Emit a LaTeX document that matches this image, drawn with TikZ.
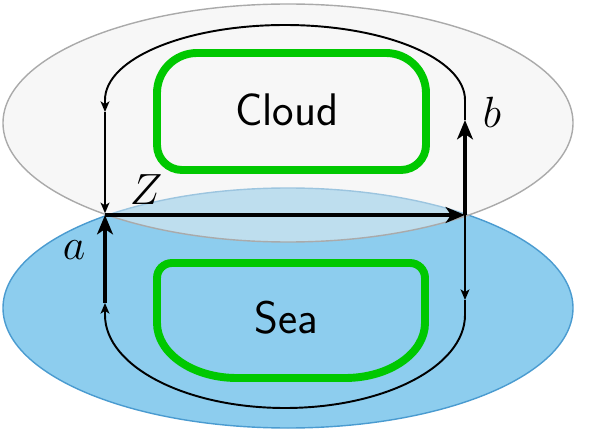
\documentclass[tikz,border=0pt]{standalone}
\usepackage{xcolor}
\usetikzlibrary{arrows.meta, positioning}

\definecolor{seablue}{HTML}{8DCDEE}
\definecolor{seaedge}{HTML}{4A9BD0}
\definecolor{cloudgray}{HTML}{EFEFEF}
\definecolor{cloudedge}{HTML}{AAAAAA}
\definecolor{boxgreen}{HTML}{00C800}

\begin{document}
\begin{tikzpicture}[
    x=0.02cm, y=-0.02cm,
    greenline/.style={draw=boxgreen, line width=4.5pt},
    word/.style={font=\fontsize{26}{30}\selectfont\sffamily, inner sep=0pt},
    lbl/.style={font=\fontsize{23}{27}\selectfont, inner sep=0pt},
    arr/.style={-{Stealth[length=11pt, width=9pt, inset=3pt]}, line width=2.3pt},
    thinarr/.style={-{Stealth[length=6pt, width=5pt, inset=1.5pt]}, line width=1.1pt},
]
\useasboundingbox (0,0) rectangle (598,442);

% the two layers
\fill[seablue, draw=seaedge, line width=0.8pt] (288,308) ellipse [x radius=285, y radius=120];
\path[fill=cloudgray, fill opacity=0.5, draw=cloudedge, line width=0.8pt] (288,123) ellipse [x radius=285, y radius=119];

% regions
\draw[greenline] (157,93) -- (157,145) arc[start angle=180, end angle=90, radius=25]
    -- (401,170) arc[start angle=90, end angle=0, radius=25]
    -- (426,93) arc[start angle=0, end angle=-90, radius=40]
    -- (197,53) arc[start angle=-90, end angle=-180, radius=40] -- cycle;
\draw[greenline] (157,278) -- (157,323) arc[start angle=180, end angle=90, x radius=80, y radius=55]
    -- (345,378) arc[start angle=90, end angle=0, x radius=80, y radius=55]
    -- (425,278) arc[start angle=0, end angle=-90, radius=15]
    -- (172,263) arc[start angle=-90, end angle=-180, radius=15] -- cycle;
\node[word] (cloud) at (287,110) {Cloud};
\node[word] (sea) at (286,318) {Sea};

% points of the loop
\coordinate (z) at (105,215);
\coordinate (p) at (465,215);
\coordinate (atail) at (105,303);
\coordinate (bhead) at (465,120);
\coordinate (tl) at (105,112);
\coordinate (br) at (465,300);

\draw[thinarr] (bhead) -- (465,100) arc[start angle=0, end angle=-180, x radius=180, y radius=75] -- (tl);
\draw[thinarr] (tl) -- ([yshift=1pt]z);
\draw[thinarr] (p) -- (br);
\draw[thinarr] (br) -- (465,315) arc[start angle=0, end angle=180, x radius=180, y radius=93] -- (atail);

\draw[arr] (z) -- (p);
\draw[arr] (atail) -- (z);
\draw[arr] (p) -- (bhead);

\node[lbl] (zlabel) at (146,190) {$Z$};
\node[lbl] (alabel) at (74,250) {$a$};
\node[lbl] (blabel) at (492,112) {$b$};

\end{tikzpicture}
\end{document}
